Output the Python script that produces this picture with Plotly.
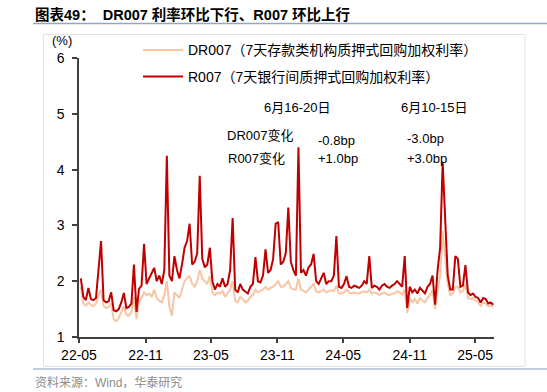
import pandas as pd
import plotly.graph_objects as go

# ---- data (weekly) ----
dates = pd.date_range("2022-05-06", "2025-06-20", freq="W-FRI")

r007_2022 = [2.05, 1.72, 1.66, 1.88,
             1.68, 1.66, 1.70, 2.20,
             2.72, 1.66, 1.62, 1.64, 1.80,
             1.48, 1.46, 1.50, 1.62,
             1.79, 1.52, 1.54, 1.60, 2.30,
             1.45, 1.86, 1.92, 2.67,
             1.95, 2.05, 2.15, 2.24,
             2.00, 2.10, 1.95, 2.20, 4.25]
dr007_2022 = [1.90, 1.60, 1.56, 1.62,
              1.58, 1.55, 1.60, 1.75,
              1.85, 1.56, 1.52, 1.54, 1.60,
              1.32, 1.28, 1.34, 1.45,
              1.55, 1.40, 1.38, 1.45, 1.72,
              1.32, 1.62, 1.70, 1.80,
              1.75, 1.78, 1.72, 1.85,
              1.70, 1.65, 1.62, 1.75, 2.00]

r007_2023 = [2.10, 2.00, 2.45, 2.20,
             2.05, 2.30, 2.60, 2.72,
             3.03, 2.30, 2.35, 2.50, 3.89,
             2.40, 2.25, 2.30, 2.60,
             2.00, 1.85, 1.95, 1.90,
             2.05, 1.90, 1.95, 2.20, 3.13,
             1.85, 1.80, 1.95, 1.85,
             1.82, 1.78, 1.90, 1.95,
             2.43, 2.00, 1.98, 2.10, 2.57,
             2.15, 2.20, 2.40, 3.03,
             3.06, 2.30, 2.35, 2.50,
             3.32, 2.35, 2.20, 2.10, 4.40]
dr007_2023 = [1.55, 1.38, 1.80, 1.75,
              1.70, 1.85, 2.00, 2.05,
              2.10, 1.95, 1.90, 2.00, 2.20,
              2.05, 2.00, 1.95, 2.10,
              1.80, 1.75, 1.80, 1.78,
              1.82, 1.72, 1.78, 1.85, 2.00,
              1.65, 1.62, 1.72, 1.68,
              1.62, 1.65, 1.72, 1.75,
              1.85, 1.80, 1.82, 1.85, 1.90,
              1.85, 1.88, 1.90, 1.95,
              2.00, 1.90, 1.90, 1.95,
              2.00, 1.88, 1.85, 1.85, 2.05]

r007_2024 = [2.15, 2.20, 2.10, 2.25,
             2.30, 2.49, 2.00, 1.95,
             2.05, 2.15, 1.95, 2.00, 2.00,
             2.10, 2.81, 1.90, 1.88,
             1.95, 2.09, 1.90, 1.88, 1.92,
             1.90, 1.88, 1.92, 2.00,
             1.95, 2.45, 1.88, 1.92,
             1.90, 1.85, 1.92, 1.95, 1.90,
             1.88, 1.92, 1.95, 2.00,
             1.95, 1.90, 2.45, 1.52,
             1.90, 1.80, 1.85, 1.78, 1.88,
             1.82, 1.78, 1.90, 1.95]
dr007_2024 = [1.85, 1.82, 1.80, 1.85,
              1.90, 1.95, 1.82, 1.80,
              1.82, 1.85, 1.80, 1.82, 1.84,
              1.82, 1.92, 1.78, 1.78,
              1.80, 1.85, 1.80, 1.78, 1.80,
              1.78, 1.78, 1.80, 1.82,
              1.80, 1.85, 1.78, 1.80,
              1.78, 1.75, 1.78, 1.80, 1.76,
              1.75, 1.78, 1.78, 1.82,
              1.80, 1.76, 1.85, 1.43,
              1.70, 1.62, 1.68, 1.60, 1.70,
              1.65, 1.62, 1.70, 1.75]

r007_2025 = [2.10, 1.58, 2.20, 2.60, 4.13,
             3.14, 2.10, 1.85, 1.85,
             2.45, 2.40, 1.90, 1.92,
             2.29, 1.80, 1.75, 1.78,
             1.72, 1.70, 1.62, 1.70, 1.68,
             1.60, 1.62, 1.58]
dr007_2025 = [1.85, 1.50, 1.85, 2.10, 2.90,
              2.40, 1.95, 1.75, 1.78,
              1.90, 1.90, 1.80, 1.82,
              1.95, 1.70, 1.68, 1.70,
              1.65, 1.62, 1.56, 1.62, 1.60,
              1.55, 1.57, 1.54]

r007 = r007_2022 + r007_2023 + r007_2024 + r007_2025
dr007 = dr007_2022 + dr007_2023 + dr007_2024 + dr007_2025

tick_vals = ["2022-05-01", "2022-11-01", "2023-05-01", "2023-11-01",
             "2024-05-01", "2024-11-01", "2025-05-01"]
tick_text = ["22-05", "22-11", "23-05", "23-11", "24-05", "24-11", "25-05"]

name_dr = "DR007（7天存款类机构质押式回购加权利率）"
name_r = "R007（7天银行间质押式回购加权利率）"
color_dr = "#F7C6A5"
color_r = "#C00000"

# ---- layout geometry (pixels) ----
W, H = 547, 392
L, R_, T, B = 79, 494, 58, 337
FONT = "Liberation Sans, Arial, Noto Sans CJK SC"

def px(x):
    return (x - L) / (R_ - L)

def py(y):
    return (B - y) / (B - T)

fig = go.Figure()
fig.add_trace(go.Scatter(x=dates, y=dr007, mode="lines", name=name_dr,
                         line=dict(color=color_dr, width=2)))
fig.add_trace(go.Scatter(x=dates, y=r007, mode="lines", name=name_r,
                         line=dict(color=color_r, width=2)))

ann = []
def text(x, y, s, anchor="left", size=13, color="#000000", bold=False):
    ann.append(dict(x=px(x), y=py(y), xref="paper", yref="paper", text=("<b>%s</b>" % s) if bold else s,
                    showarrow=False, xanchor=anchor, yanchor="middle",
                    font=dict(family=FONT, size=size, color=color)))

text(33, 14.5, "图表49：  DR007 利率环比下行、R007 环比上行", size=14.5, bold=True)
text(62, 40, "(%)", anchor="center", size=13)
# legend (drawn by hand to match the reference's long line samples)
text(186, 50, name_dr, size=14)
text(186, 76.5, name_r, size=14)
text(297, 107, "6月16-20日", anchor="center")
text(434, 107, "6月10-15日", anchor="center")
text(225, 135, "DR007变化")
text(226, 158, "R007变化")
text(316, 140, "-0.8bp")
text(316, 158, "+1.0bp")
text(405, 138, "-3.0bp")
text(405, 158, "+3.0bp")
text(33, 382, "资料来源：Wind，华泰研究", size=12, color="#8C8C8C")

shapes = [
    dict(type="line", xref="paper", yref="paper", x0=px(33), x1=px(547), y0=py(23.5), y1=py(23.5),
         line=dict(color="#8FA8C8", width=1.5)),
    dict(type="rect", xref="paper", yref="paper", x0=px(43.5), x1=px(525), y0=py(34.5), y1=py(366.5),
         line=dict(color="#E3E3E3", width=1)),
    dict(type="line", xref="paper", yref="paper", x0=px(33), x1=px(547), y0=py(369), y1=py(369),
         line=dict(color="#A9BCD6", width=1.5)),
    dict(type="line", xref="paper", yref="paper", x0=px(143), x1=px(183), y0=py(50), y1=py(50),
         line=dict(color=color_dr, width=2)),
    dict(type="line", xref="paper", yref="paper", x0=px(143), x1=px(183), y0=py(76.5), y1=py(76.5),
         line=dict(color=color_r, width=2)),
]

fig.update_layout(
    width=W, height=H,
    margin=dict(l=L, r=W - R_, t=T, b=H - B, pad=0),
    paper_bgcolor="white", plot_bgcolor="white",
    font=dict(family=FONT, size=14, color="#000000"),
    showlegend=False,
    annotations=ann, shapes=shapes,
    xaxis=dict(range=["2022-05-01", "2025-06-22"], tickvals=tick_vals, ticktext=tick_text,
               showgrid=False, zeroline=False, showline=True, linecolor="#404040", linewidth=1.5,
               ticks="outside", ticklen=4, tickcolor="#404040", tickwidth=1.5,
               tickfont=dict(family=FONT, size=14), ticklabelstandoff=0),
    yaxis=dict(range=[1, 6], tickvals=[1, 2, 3, 4, 5, 6], showgrid=False, zeroline=False,
               showline=True, linecolor="#404040", linewidth=1.5,
               ticks="outside", ticklen=5, tickcolor="#404040", tickwidth=1.5,
               tickfont=dict(family=FONT, size=14), ticklabelstandoff=5),
)

fig.write_html("out.html", config={"displayModeBar": False},
               post_script="document.body.style.margin='0px';document.body.style.overflow='hidden';")
